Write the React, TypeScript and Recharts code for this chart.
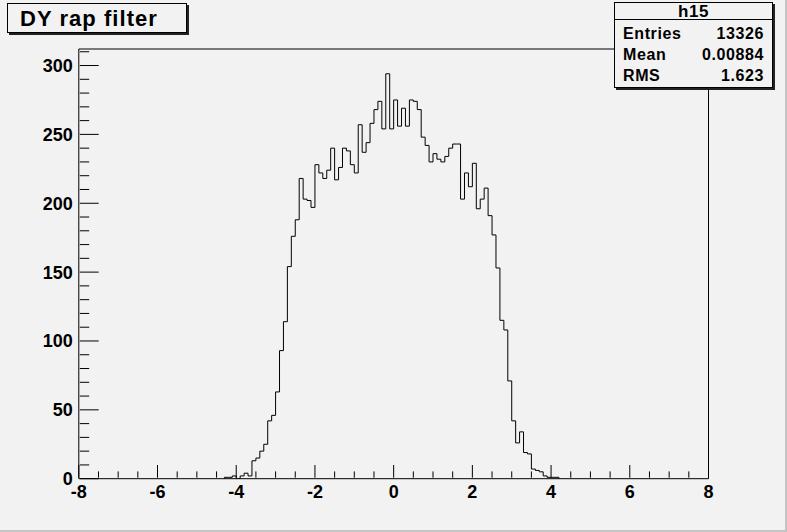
import React from "react";
import { LineChart, Line, XAxis, YAxis, ReferenceArea } from "recharts";

// histogram h15: 0.1-wide bins, first bin starts at -4.3
const binStart = -4.3;
const binWidth = 0.1;
const counts = [
  1, 1, 2, 0, 2, 4, 2, 13, 15, 20, 25, 42, 46, 63, 93, 114, 154, 176, 188, 218, 203, 202, 197,
  228, 222, 218, 224, 240, 217, 226, 240, 238, 228, 222, 257, 237, 244, 258, 268, 274, 254, 294, 254,
  275, 256, 269, 256, 275, 274, 268, 248, 242, 230, 236, 232, 230, 234, 240, 243, 243, 203, 222, 212,
  229, 196, 203, 211, 191, 177, 153, 115, 108, 71, 42, 26, 34, 19, 18, 7, 6, 5, 2, 1, 1, 1,
];

const xLabels = [-8, -6, -4, -2, 0, 2, 4, 6, 8];
const yLabels = [0, 50, 100, 150, 200, 250, 300];
const xMin = -8;
const xMax = 8;
const yMax = 312;

const statsTitle = "h15";
const statsRows = [
  ["Entries", "13326"],
  ["Mean", "0.00884"],
  ["RMS", "1.623"],
];

const r1 = (v: number) => Math.round(v * 10) / 10;

const hist: { x: number; y: number }[] = [{ x: binStart, y: 0 }];
counts.forEach((c, i) => hist.push({ x: r1(binStart + i * binWidth), y: c }));
const binEnd = r1(binStart + counts.length * binWidth);
hist.push({ x: binEnd, y: counts[counts.length - 1] });
hist.push({ x: binEnd, y: 0 });

const xTicks: number[] = [];
for (let v = xMin; v <= xMax; v += 0.5) xTicks.push(v);
const yTicks: number[] = [];
for (let v = 0; v <= 310; v += 10) yTicks.push(v);

const FONT = "'Liberation Sans', Arial, Helvetica, sans-serif";

// axis line sits 1px from where recharts puts the tick anchor (axis size = 1)
const renderXTick = (props: any) => {
  const { x, y, payload } = props;
  const base = y - 1;
  const major = xLabels.includes(payload.value);
  return (
    <g key={`xt-${payload.value}`}>
      <line x1={x} x2={x} y1={base} y2={base - (major ? 12.7 : 6.3)} stroke="#000" />
      {major && (
        <text x={x} y={base + 20} textAnchor="middle" fontFamily={FONT} fontWeight="bold" fontSize={18} fill="#000">
          {payload.value}
        </text>
      )}
    </g>
  );
};

const renderYTick = (props: any) => {
  const { x, y, payload } = props;
  const base = x + 1;
  const major = yLabels.includes(payload.value);
  return (
    <g key={`yt-${payload.value}`}>
      <line x1={base} x2={base + (major ? 18.9 : 9.4)} y1={y} y2={y} stroke="#000" />
      {major && (
        <text x={base - 7} y={y + 6.5} textAnchor="end" fontFamily={FONT} fontWeight="bold" fontSize={18} fill="#000">
          {payload.value}
        </text>
      )}
    </g>
  );
};

export default function App() {
  return (
    <div
      style={{
        position: "absolute",
        left: 0,
        top: 0,
        width: 787,
        height: 532,
        background: "#f2f2f2",
        fontFamily: FONT,
        overflow: "hidden",
      }}
    >
      <LineChart width={787} height={532} data={hist} margin={{ top: 49, right: 78.5, bottom: 52.3, left: 77.8 }}>
        <XAxis
          dataKey="x"
          type="number"
          domain={[xMin, xMax]}
          ticks={xTicks}
          interval={0}
          height={1}
          tickSize={0}
          tickMargin={0}
          axisLine={false}
          tickLine={false}
          tick={renderXTick}
          allowDataOverflow
        />
        <YAxis
          type="number"
          domain={[0, yMax]}
          ticks={yTicks}
          interval={0}
          width={1}
          tickSize={0}
          tickMargin={0}
          axisLine={false}
          tickLine={false}
          tick={renderYTick}
          allowDataOverflow
        />
        <ReferenceArea x1={xMin} x2={xMax} y1={0} y2={yMax} fill="none" stroke="#000" strokeWidth={1} />
        <Line
          dataKey="y"
          type="stepAfter"
          stroke="#000"
          strokeWidth={1}
          dot={false}
          isAnimationActive={false}
        />
      </LineChart>

      {/* title box */}
      <div
        style={{
          position: "absolute",
          left: 7,
          top: 3,
          width: 166,
          height: 28,
          border: "1px solid #000",
          boxShadow: "2px 2px 0 #222",
          background: "#f2f2f2",
          fontWeight: "bold",
          fontSize: 22,
          lineHeight: "29px",
          paddingLeft: 12,
          boxSizing: "content-box",
          letterSpacing: 1.05,
          whiteSpace: "nowrap",
        }}
      >
        DY rap filter
      </div>

      {/* stats box */}
      <div
        style={{
          position: "absolute",
          left: 614,
          top: 2,
          width: 157,
          height: 84,
          border: "1px solid #000",
          boxShadow: "2px 2px 0 #222",
          background: "#f2f2f2",
          fontWeight: "bold",
          fontSize: 16,
          letterSpacing: 0.6,
        }}
      >
        <div
          style={{
            position: "absolute",
            left: 0,
            top: 0,
            width: 157,
            height: 16,
            borderBottom: "1px solid #000",
            textAlign: "center",
            lineHeight: "18px",
            fontSize: 17,
          }}
        >
          {statsTitle}
        </div>
        {statsRows.map(([k, v], i) => (
          <div
            key={k}
            style={{
              position: "absolute",
              left: 8,
              right: 8,
              top: 21 + i * 21.2,
              height: 20,
              lineHeight: "20px",
              display: "flex",
              justifyContent: "space-between",
            }}
          >
            <span>{k}</span>
            <span>{v}</span>
          </div>
        ))}
      </div>

      {/* canvas bevel */}
      <div style={{ position: "absolute", left: 0, top: 530, width: 787, height: 2, background: "#c4c4c4" }} />
      <div style={{ position: "absolute", left: 785, top: 0, width: 2, height: 532, background: "#c4c4c4" }} />
    </div>
  );
}
